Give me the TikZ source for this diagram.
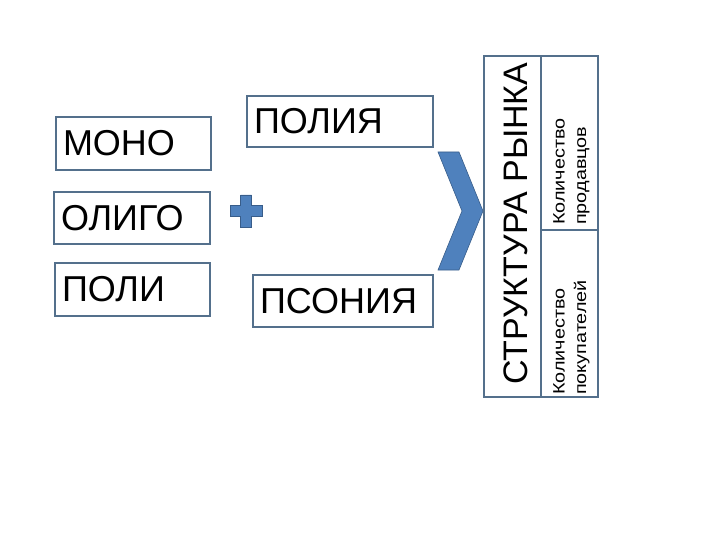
\documentclass[tikz,border=0pt]{standalone}
\usepackage{fontspec}
\setmainfont{Liberation Sans}
\definecolor{boxline}{RGB}{84,112,140}
\definecolor{shapefill}{RGB}{79,129,189}
\definecolor{shapeline}{RGB}{56,93,138}
\tikzset{
  wordbox/.style={draw=boxline, line width=1.6pt, fill=white, align=left, inner xsep=7pt, inner ysep=0pt,
    font=\fontsize{36}{42}\selectfont},
  blueshape/.style={fill=shapefill, draw=shapeline, line width=0.6pt},
  tablecell/.style={draw=boxline, line width=1.6pt, fill=white, inner sep=0pt},
  smalltext/.style={rotate=90, anchor=north west, inner sep=0pt, align=left,
    font=\fontsize{16.5}{21.5}\selectfont},
}
\newcommand{\stretchline}[1]{\scalebox{1.2}[1]{#1}}
\begin{document}
\begin{tikzpicture}[x=1pt,y=-1pt]
\useasboundingbox (0,0) rectangle (720,540);
% left column boxes
\node[wordbox, text width=141pt, minimum height=53pt] (mono) at (133.5,143.5) {МОНО};
\node[wordbox, text width=142pt, minimum height=52pt] (oligo) at (132,218) {ОЛИГО};
\node[wordbox, text width=141pt, minimum height=53pt] (poli) at (132.5,289.5) {ПОЛИ};
% middle boxes
\node[wordbox, text width=172pt, minimum height=51pt] (poliya) at (340,121.5) {ПОЛИЯ};
\node[wordbox, text width=166pt, minimum height=52pt] (psoniya) at (343,301) {ПСОНИЯ};
% plus
\path[blueshape] (230,205.5) -- (240.5,205.5) -- (240.5,195) -- (251.5,195) -- (251.5,205.5)
  -- (262,205.5) -- (262,216.5) -- (251.5,216.5) -- (251.5,227) -- (240.5,227) -- (240.5,216.5)
  -- (230,216.5) -- cycle;
\coordinate (plus) at (246,211);
% chevron
\path[blueshape] (438,152) -- (459,152) -- (483,211) -- (459,270) -- (438,270) -- (462,211) -- cycle;
\coordinate (chev) at (460,211);
% table
\node[tablecell, minimum width=57pt, minimum height=341pt] (struct) at (512.5,226.5) {};
\node[tablecell, minimum width=57pt, minimum height=174pt] (sellers) at (569.5,143) {};
\node[tablecell, minimum width=57pt, minimum height=167pt] (buyers) at (569.5,313.5) {};
\node[rotate=90, anchor=west, inner sep=0pt, font=\fontsize{34}{40}\selectfont] (title) at (516,385) {СТРУКТУРА РЫНКА};
\node[smalltext] (sellerstext) at (553,225) {\stretchline{Количество}\\\stretchline{продавцов}};
\node[smalltext] (buyerstext) at (553,395) {\stretchline{Количество}\\\stretchline{покупателей}};
\end{tikzpicture}
\end{document}
